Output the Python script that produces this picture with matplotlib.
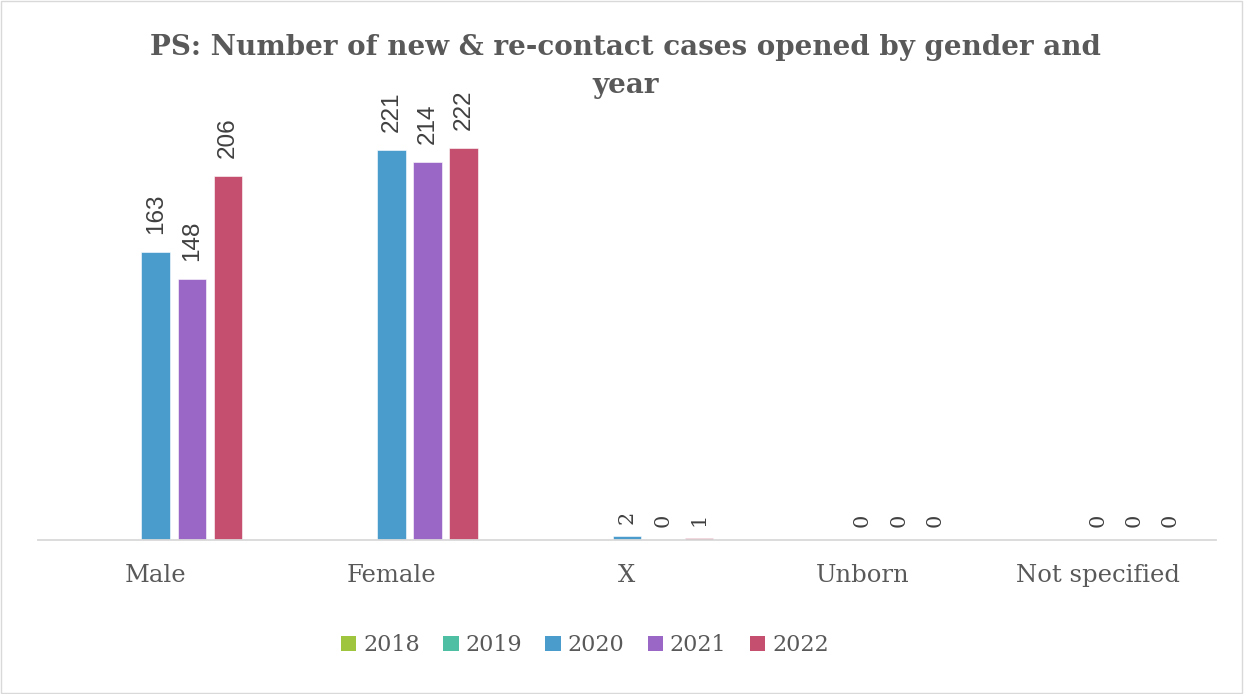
import numpy as np
import matplotlib.pyplot as plt
from matplotlib.patches import Rectangle, Patch

# categories and yearly values (2018/2019 have no data in the chart)
categories = ['Male', 'Female', 'X', 'Unborn', 'Not specified']
years = ['2018', '2019', '2020', '2021', '2022']
cases_2018 = [None, None, None, None, None]
cases_2019 = [None, None, None, None, None]
cases_2020 = [163, 221, 2, 0, 0]
cases_2021 = [148, 214, 0, 0, 0]
cases_2022 = [206, 222, 1, 0, 0]

series = [cases_2018, cases_2019, cases_2020, cases_2021, cases_2022]
colors = ['#9fc53f', '#4fbfa4', '#4a9ccd', '#9a67c7', '#c44f6f']

fig = plt.figure(figsize=(12.44, 6.94), dpi=100)
ax = fig.add_axes([0.0305, 0.222, 0.947, 0.636])

x = np.arange(len(categories))
slot = 0.153
width = 0.121
offsets = [-2 * slot, -slot, 0, slot, 2 * slot]

for vals, off, col, yr in zip(series, offsets, colors, years):
    xs = [xi + off for xi, v in zip(x, vals) if v is not None]
    ys = [v for v in vals if v is not None]
    ax.bar(xs, ys, width=width, color=col, edgecolor='white', linewidth=0.4)
    for xi, v in zip(xs, ys):
        # big values use a sans label, the small ones look like the serif font
        if v >= 10:
            ax.annotate(str(v), (xi, v), xytext=(0, 13), textcoords='offset points',
                        rotation=90, ha='center', va='bottom', fontsize=17.5,
                        color='#404040', family='Liberation Sans')
        else:
            ax.annotate(str(v), (xi, v), xytext=(0, 9), textcoords='offset points',
                        rotation=90, ha='center', va='bottom', fontsize=15,
                        color='#404040', family='DejaVu Serif')

ax.set_xlim(-0.5, len(categories) - 0.5)
ax.set_ylim(0, 250)
ax.set_xticks(x)
ax.set_xticklabels(categories, fontsize=17.5, color='#595959', family='DejaVu Serif')
ax.tick_params(axis='x', length=0, pad=17)
ax.set_yticks([])
for side in ['top', 'right', 'left']:
    ax.spines[side].set_visible(False)
ax.spines['bottom'].set_color('#d9d9d9')
ax.spines['bottom'].set_linewidth(1.3)

# title in two lines, as wrapped in the original
title_kw = dict(ha='center', va='center', fontsize=20, fontweight='bold',
                color='#595959', family='DejaVu Serif')
fig.text(0.503, 0.932, 'PS: Number of new & re-contact cases opened by gender and', **title_kw)
fig.text(0.503, 0.877, 'year', **title_kw)

handles = [Patch(facecolor=c, label=y) for c, y in zip(colors, years)]
leg = fig.legend(handles=handles, loc='center', bbox_to_anchor=(0.47, 0.07), ncol=5,
                 frameon=False, handlelength=0.7, handleheight=0.7, handletextpad=0.3,
                 columnspacing=1.05, prop={'family': 'DejaVu Serif', 'size': 16})
for t in leg.get_texts():
    t.set_color('#595959')

# light chart-area border
fig.patches.append(Rectangle((0.001, 0.002), 0.997, 0.996, transform=fig.transFigure,
                             fill=False, edgecolor='#d9d9d9', linewidth=1))

fig.savefig('out.png', dpi=100)
